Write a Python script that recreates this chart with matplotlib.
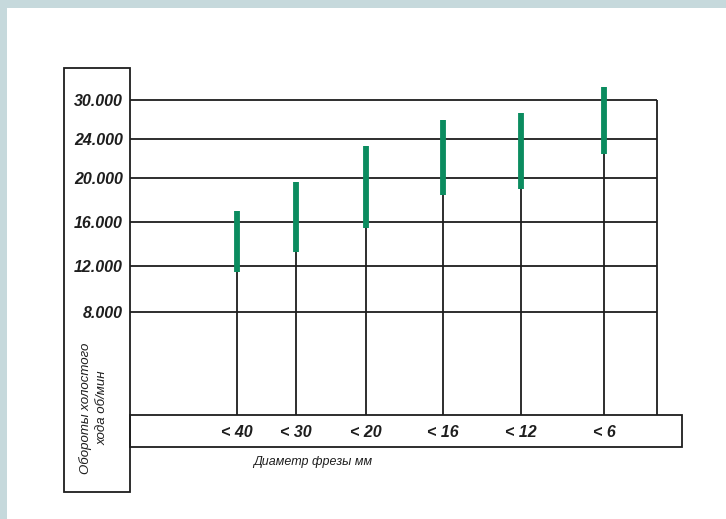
import numpy as np
import matplotlib
matplotlib.use('Agg')
import matplotlib.pyplot as plt
from matplotlib.patches import Rectangle

plt.rcParams['font.family'] = ['Liberation Sans', 'DejaVu Sans']
plt.rcParams['font.weight'] = 'bold'
plt.rcParams['font.style'] = 'italic'

# ── data ────────────────────────────────────────────────────────────────
categories = ['< 40', '< 30', '< 20', '< 16', '< 12', '< 6']
rpm_low = [11500, 13300, 15500, 18500, 19000, 22500]
rpm_high = [17000, 19600, 23300, 27000, 28000, 32000]
tick_levels = [8000, 12000, 16000, 20000, 24000, 30000]
tick_labels = ['8.000', '12.000', '16.000', '20.000', '24.000', '30.000']

# ── layout (pixels of a 726x519 canvas) ─────────────────────────────────
W, H = 726, 519
x_pos = [237, 296, 366, 443, 521, 604]
# the original axis is not linear: map rpm to pixel height above the baseline
scale_vals = [0, 8000, 12000, 16000, 20000, 24000, 30000, 36000]
scale_px = [0, 103, 149, 193, 237, 276, 315, 354]

def fwd(v):
    return np.interp(v, scale_vals, scale_px)

def inv(p):
    return np.interp(p, scale_px, scale_vals)

def fx(x):
    return x / W

def fy(y):
    return 1 - y / H

GREEN = '#0b8c5f'
BORDER = '#c6d9dc'
INK = '#1e1e1e'
LW = 1.3

fig = plt.figure(figsize=(W / 100, H / 100), dpi=100, facecolor='white')

# light frame on top and left
fig.patches.append(Rectangle((0, fy(8)), 1, 8 / H, transform=fig.transFigure,
                             facecolor=BORDER, edgecolor='none'))
fig.patches.append(Rectangle((0, 0), 7 / W, 1, transform=fig.transFigure,
                             facecolor=BORDER, edgecolor='none'))

# left label box and bottom category box
fig.patches.append(Rectangle((fx(64), fy(492)), (130 - 64) / W, (492 - 68) / H,
                             transform=fig.transFigure, facecolor='none',
                             edgecolor=INK, lw=LW))
fig.patches.append(Rectangle((fx(130), fy(447)), (682 - 130) / W, (447 - 415) / H,
                             transform=fig.transFigure, facecolor='none',
                             edgecolor=INK, lw=LW))

top_rpm = 35000
ax_top = 415 - fwd(top_rpm)
ax = fig.add_axes([fx(130), fy(415), (657 - 130) / W, (415 - ax_top) / H])
ax.set_facecolor('none')
ax.set_yscale('function', functions=(fwd, inv))
ax.set_xlim(130, 657)
ax.set_ylim(0, top_rpm)
for s in ax.spines.values():
    s.set_visible(False)

# horizontal grid and right edge
ax.hlines(tick_levels, 130, 657, color=INK, lw=LW, clip_on=False)
ax.vlines(657, 0, max(tick_levels), color=INK, lw=LW, clip_on=False)

# stems and green ranges
ax.vlines(x_pos, 0, rpm_low, color=INK, lw=LW)
ax.vlines(x_pos, rpm_low, rpm_high, color=GREEN, lw=4.2)

ax.set_yticks(tick_levels, tick_labels)
ax.set_xticks(x_pos, categories)
ax.tick_params(axis='y', length=0, pad=5, labelsize=11.5, labelcolor=INK)
ax.tick_params(axis='x', length=0, pad=7, labelsize=11.5, labelcolor=INK)

fig.text(fx(94), fy(408), 'Обороты холостого\nхода об/мин', rotation=90,
         ha='center', va='center', style='italic', weight='normal',
         size=9.5, color=INK, linespacing=1.5)
fig.text(fx(313), fy(462), 'Диаметр фрезы мм', ha='center', va='center',
         style='italic', weight='normal', size=9, color=INK)

fig.savefig('out.png', dpi=100, facecolor='white')
